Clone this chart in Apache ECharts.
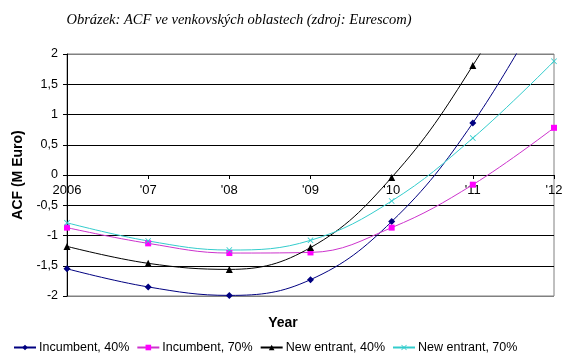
<!DOCTYPE html>
<html><head><meta charset="utf-8">
<script src="https://cdn.jsdelivr.net/npm/echarts@6/dist/echarts.min.js"></script>
<style>html,body{margin:0;padding:0;background:#fff}#c{width:579px;height:360px}</style>
</head><body><div id="c"></div>
<script>
const years = ['2006', "'07", "'08", "'09", "'10", "'11", "'12"];
const incumbent40 = [-1.55, -1.85, -1.99, -1.73, -0.77, 0.86, 3.1];
const incumbent70 = [-0.87, -1.13, -1.29, -1.28, -0.87, -0.16, 0.78];
const newEntrant40 = [-1.18, -1.46, -1.56, -1.20, -0.04, 1.81, 4.2];
const newEntrant70 = [-0.79, -1.09, -1.24, -1.08, -0.43, 0.61, 1.88];
const yTicks = [-2, 2, 0.5];

const xMark = 'path://M0,1L1,0L5,4L9,0L10,1L6,5L10,9L9,10L5,6L1,10L0,9L4,5Z';
const chart = echarts.init(document.getElementById('c'));
function s(name, data, lineColor, markColor, symbol, size) {
  return {
    name, type: 'line', data, smooth: 0.4, clip: true,
    symbol, symbolSize: size, showSymbol: true,
    lineStyle: { color: lineColor, width: 1 },
    itemStyle: { color: markColor, borderWidth: 0 },
    emphasis: { disabled: true }
  };
}
const gridTop = 54, gridBottom = 64, plotH = 360 - gridTop - gridBottom;
const zeroOffset = -plotH * (0 - yTicks[0]) / (yTicks[1] - yTicks[0]);
chart.setOption({
  animation: false,
  title: [
    { text: 'Obrázek: ACF ve venkovských oblastech (zdroj: Eurescom)', left: 234, textAlign: 'center', top: 8,
      textStyle: { fontFamily: 'Liberation Serif', fontStyle: 'italic', fontWeight: 'normal', fontSize: 14.5, color: '#000' } },
    { text: 'Year', left: 278, textAlign: 'center', top: 311,
      textStyle: { fontFamily: 'Liberation Sans', fontWeight: 'bold', fontSize: 14, color: '#000' } }
  ],
  legend: {
    left: 8, top: 336, itemWidth: 22, itemHeight: 7, itemGap: 7,
    textStyle: { fontFamily: 'Liberation Sans', fontSize: 12.5, color: '#000', padding: [0, 0, 0, -2] },
    data: ['Incumbent, 40%', 'Incumbent, 70%', 'New entrant, 40%', 'New entrant, 70%']
  },
  grid: { left: 67, right: 25, top: gridTop, bottom: gridBottom, show: true, borderColor: '#808080', borderWidth: 1, backgroundColor: 'transparent' },
  xAxis: {
    type: 'category', data: years, boundaryGap: false, position: 'bottom', offset: zeroOffset,
    axisLine: { onZero: false, lineStyle: { color: '#000', width: 1 } },
    axisTick: { show: true, inside: false, length: 4, alignWithLabel: true, lineStyle: { color: '#000' } },
    axisLabel: { fontFamily: 'Liberation Sans', fontSize: 13, color: '#000', margin: 9, interval: 0 },
    splitLine: { show: false }
  },
  yAxis: {
    type: 'value', min: yTicks[0], max: yTicks[1], interval: yTicks[2],
    name: 'ACF (M Euro)', nameLocation: 'middle', nameRotate: 90, nameGap: 40,
    nameTextStyle: { fontFamily: 'Liberation Sans', fontWeight: 'bold', fontSize: 14, color: '#000' },
    axisLine: { show: true, lineStyle: { color: '#000', width: 1 } },
    axisTick: { show: true, length: 4, lineStyle: { color: '#000' } },
    axisLabel: { fontFamily: 'Liberation Sans', fontSize: 12.5, color: '#000', margin: 9,
      formatter: v => String(v).replace('.', ',') },
    splitLine: { show: true, lineStyle: { color: ['#808080', '#000', '#000', '#000', '#000', '#000', '#000', '#000', '#808080'], width: 1 } }
  },
  series: [
    s('Incumbent, 40%', incumbent40, '#000080', '#000080', 'diamond', 7),
    s('Incumbent, 70%', incumbent70, '#cc33cc', '#ff00ff', 'rect', 6),
    s('New entrant, 40%', newEntrant40, '#000000', '#000000', 'triangle', 7),
    s('New entrant, 70%', newEntrant70, '#33cccc', '#33cccc', xMark, 6)
  ]
});
</script></body></html>
